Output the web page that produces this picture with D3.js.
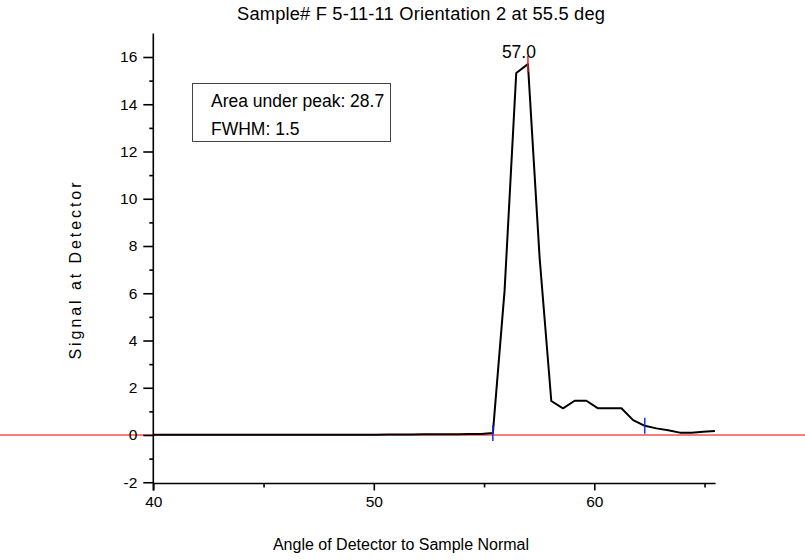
<!DOCTYPE html>
<html><head><meta charset="utf-8">
<script src="https://cdn.jsdelivr.net/npm/d3@7"></script>
<style>body{margin:0;background:#fff}svg{display:block}text{font-family:"Liberation Sans",Arial,sans-serif;fill:#000}</style>
</head><body>
<script>
const angles = [40.03,40.56,41.09,41.62,42.15,42.68,43.21,43.74,44.27,44.80,45.33,45.86,46.39,46.92,47.45,47.98,48.51,49.04,49.57,50.10,50.63,51.16,51.69,52.22,52.75,53.28,53.81,54.34,54.87,55.40,55.93,56.46,56.99,57.52,58.05,58.58,59.11,59.64,60.17,60.70,61.23,61.76,62.29,62.82,63.35,63.88,64.41,64.94,65.47];
const signal = [0.01,0.01,0.01,0.01,0.01,0.01,0.01,0.01,0.01,0.01,0.01,0.01,0.01,0.01,0.01,0.01,0.01,0.01,0.01,0.01,0.02,0.02,0.02,0.03,0.03,0.03,0.03,0.04,0.04,0.08,6.1,15.32,15.7,7.5,1.44,1.13,1.45,1.45,1.13,1.13,1.13,0.63,0.39,0.28,0.2,0.1,0.1,0.14,0.17];
const xMajorTicks = [40,50,60];
const xMinorTicks = [45,55,65];
const yMajorTicks = [-2,0,2,4,6,8,10,12,14,16];
const yMinorTicks = [-1,1,3,5,7,9,11,13,15];
const peakIndex = 32;
const boundIndices = [29,42];
const titleText = "Sample# F 5-11-11 Orientation 2 at 55.5 deg";
const xLabel = "Angle of Detector to Sample Normal";
const yLabel = "Signal at Detector";
const noteLines = ["Area under peak: 28.7","FWHM: 1.5"];
const peakLabel = "57.0";

const W=805,H=560;
const svg=d3.select("body").append("svg").attr("width",W).attr("height",H);
const x=d3.scaleLinear().domain([40,65.5]).range([153.3,153.3+25.5*22.05]);
const y=d3.scaleLinear().domain([-2.05,17]).range([435+2.05*23.625,435-17*23.625]);

// baseline (zero) line across full width
svg.append("line").attr("x1",0).attr("x2",W).attr("y1",y(0)).attr("y2",y(0))
  .attr("stroke","#f05050").attr("stroke-width",1.5);

// axes
const fmt=d=>String(d);
const xAxisMajor=d3.axisBottom(x).tickValues(xMajorTicks).tickSize(7).tickPadding(6).tickFormat(fmt);
const xAxisMinor=d3.axisBottom(x).tickValues(xMinorTicks).tickSize(4).tickFormat("");
const yAxisMajor=d3.axisLeft(y).tickValues(yMajorTicks).tickSize(10).tickPadding(6).tickFormat(fmt);
const yAxisMinor=d3.axisLeft(y).tickValues(yMinorTicks).tickSize(4).tickFormat("");
function styleAx(g){g.selectAll("path,line").attr("stroke","#000").attr("stroke-width",1.6);g.selectAll("text").attr("font-size",15.5).attr("font-family","Liberation Sans, Arial, sans-serif").attr("fill","#000");}
const gx=svg.append("g").attr("transform",`translate(0,${y(-2.05)})`);
gx.call(xAxisMajor).call(styleAx);
svg.append("g").attr("transform",`translate(0,${y(-2.05)})`).call(xAxisMinor).call(styleAx).select(".domain").remove();
gx.selectAll(".domain").attr("d",`M${x(40)},0H${x(65.5)}`);
const gy=svg.append("g").attr("transform",`translate(${x(40)},0)`);
gy.call(yAxisMajor).call(styleAx);
svg.append("g").attr("transform",`translate(${x(40)},0)`).call(yAxisMinor).call(styleAx).select(".domain").remove();
gy.selectAll(".domain").attr("d",`M0,${y(17)}V${y(-2.05)+7}`);

// data line
const pts=angles.map((a,i)=>[a,signal[i]]);
svg.append("path").datum(pts).attr("fill","none").attr("stroke","#000").attr("stroke-width",2)
  .attr("stroke-linejoin","round")
  .attr("d",d3.line().x(d=>x(d[0])).y(d=>y(d[1])));

// peak marker
svg.append("line").attr("x1",x(angles[peakIndex])).attr("x2",x(angles[peakIndex]))
  .attr("y1",y(signal[peakIndex])-8).attr("y2",y(signal[peakIndex])+8)
  .attr("stroke","#e8202a").attr("stroke-width",1.5);
svg.append("text").attr("x",x(angles[peakIndex])-9).attr("y",y(signal[peakIndex])-6)
  .attr("text-anchor","middle").attr("font-size",17.5).text(peakLabel);

// bounds markers
boundIndices.forEach(i=>{
  svg.append("line").attr("x1",x(angles[i])).attr("x2",x(angles[i]))
    .attr("y1",y(signal[i])-8).attr("y2",y(signal[i])+8)
    .attr("stroke","#1a2ee8").attr("stroke-width",1.5);
});

// annotation box
svg.append("rect").attr("x",192.5).attr("y",83.5).attr("width",198).attr("height",58)
  .attr("fill","#fff").attr("stroke","#444").attr("stroke-width",1);
noteLines.forEach((t,i)=>svg.append("text").attr("x",211).attr("y",107+i*28).attr("font-size",17.5).text(t));

// titles
svg.append("text").attr("x",421).attr("y",20).attr("text-anchor","middle").attr("font-size",18.3)
  .attr("textLength",368).attr("lengthAdjust","spacing").text(titleText);
svg.append("text").attr("x",401).attr("y",550).attr("text-anchor","middle").attr("font-size",16).text(xLabel);
svg.append("text").attr("transform",`translate(81,271) rotate(-90)`).attr("text-anchor","middle").attr("font-size",16)
  .attr("textLength",177).attr("lengthAdjust","spacing").text(yLabel);
</script>
</body></html>
